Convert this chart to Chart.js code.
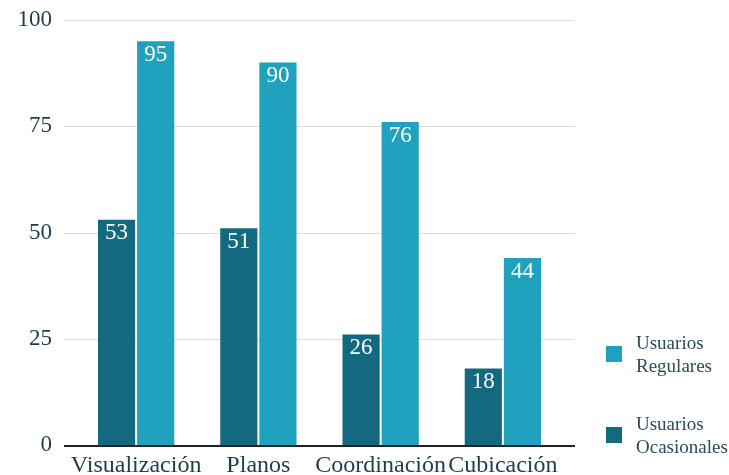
<!DOCTYPE html>
<html>
<head>
<meta charset="utf-8">
<script src="https://cdn.jsdelivr.net/npm/chart.js@4"></script>
<style>
  html, body { margin: 0; padding: 0; background: #fff; }
  #wrap { width: 729px; height: 475px; }
</style>
</head>
<body>
<div id="wrap"><canvas id="grafico" width="729" height="475"></canvas></div>
<script>
const categorias = ["Visualización", "Planos", "Coordinación", "Cubicación"];
const ocasionales = [53, 51, 26, 18];
const regulares = [95, 90, 76, 44];
const ticksY = [0, 25, 50, 75, 100];

const FUENTE = "'Liberation Serif', 'Times New Roman', serif";
const TEXTO = "#1e3d4d";

// lineas de fondo y eje inferior, un poco mas anchas que el area de barras
const lineasFondo = {
  id: "lineasFondo",
  beforeDatasetsDraw(chart) {
    const { ctx, chartArea, scales } = chart;
    const x0 = chartArea.left - 11, x1 = chartArea.right + 11;
    ctx.save();
    ctx.strokeStyle = "#dcdcdc";
    ctx.lineWidth = 1;
    ticksY.forEach(v => {
      if (v === 0) return;
      const y = Math.round(scales.y.getPixelForValue(v)) + 0.5;
      ctx.beginPath();
      ctx.moveTo(x0, y);
      ctx.lineTo(x1, y);
      ctx.stroke();
    });
    ctx.restore();
  },
  afterDatasetsDraw(chart) {
    const { ctx, chartArea, scales } = chart;
    const y = scales.y.getPixelForValue(0) + 1;
    ctx.save();
    ctx.strokeStyle = "#222";
    ctx.lineWidth = 2;
    ctx.beginPath();
    ctx.moveTo(chartArea.left - 11, y);
    ctx.lineTo(chartArea.right + 11, y);
    ctx.stroke();
    ctx.restore();
  }
};

// valores en blanco dentro de cada barra
const etiquetas = {
  id: "etiquetas",
  afterDatasetsDraw(chart) {
    const { ctx } = chart;
    ctx.save();
    ctx.fillStyle = "#fff";
    ctx.font = "23px " + FUENTE;
    ctx.textAlign = "center";
    ctx.textBaseline = "top";
    chart.data.datasets.forEach((ds, i) => {
      chart.getDatasetMeta(i).data.forEach((bar, j) => {
        ctx.fillText(String(ds.data[j]), bar.x, bar.y + 2);
      });
    });
    ctx.restore();
  }
};

// leyenda a la derecha, dos lineas por serie
const leyenda = {
  id: "leyenda",
  afterDraw(chart) {
    const { ctx } = chart;
    const items = [
      { ds: chart.data.datasets[1], y: 354 },
      { ds: chart.data.datasets[0], y: 435 }
    ];
    ctx.save();
    ctx.font = "19px " + FUENTE;
    ctx.textBaseline = "middle";
    ctx.textAlign = "left";
    items.forEach(it => {
      ctx.fillStyle = it.ds.backgroundColor;
      ctx.fillRect(606, it.y - 8, 16, 16);
      ctx.fillStyle = "#2c4a5a";
      const partes = it.ds.label.split(" ");
      ctx.fillText(partes[0], 636, it.y - 10);
      ctx.fillText(partes[1], 636, it.y + 13);
    });
    ctx.restore();
  }
};

new Chart(document.getElementById("grafico").getContext("2d"), {
  type: "bar",
  data: {
    labels: categorias,
    datasets: [
      { label: "Usuarios Ocasionales", data: ocasionales, backgroundColor: "#136a80" },
      { label: "Usuarios Regulares", data: regulares, backgroundColor: "#20a1be" }
    ]
  },
  options: {
    responsive: false,
    animation: false,
    layout: { padding: { top: 20, right: 165, bottom: 0, left: 0 } },
    datasets: { bar: { categoryPercentage: 0.64, barPercentage: 0.95 } },
    plugins: {
      legend: { display: false },
      tooltip: { enabled: false }
    },
    scales: {
      x: {
        grid: { display: false },
        border: { display: false },
        ticks: { color: TEXTO, font: { family: FUENTE, size: 24 }, padding: -2, maxRotation: 0, autoSkip: false },
        afterFit(s) { s.height = 30; }
      },
      y: {
        min: 0,
        max: 100,
        grid: { display: false },
        border: { display: false },
        ticks: { stepSize: 25, color: TEXTO, font: { family: FUENTE, size: 23 }, padding: 15 },
        afterFit(s) { s.width = 75; s.paddingTop = 0; s.paddingBottom = 0; }
      }
    }
  },
  plugins: [lineasFondo, etiquetas, leyenda]
});
</script>
</body>
</html>
